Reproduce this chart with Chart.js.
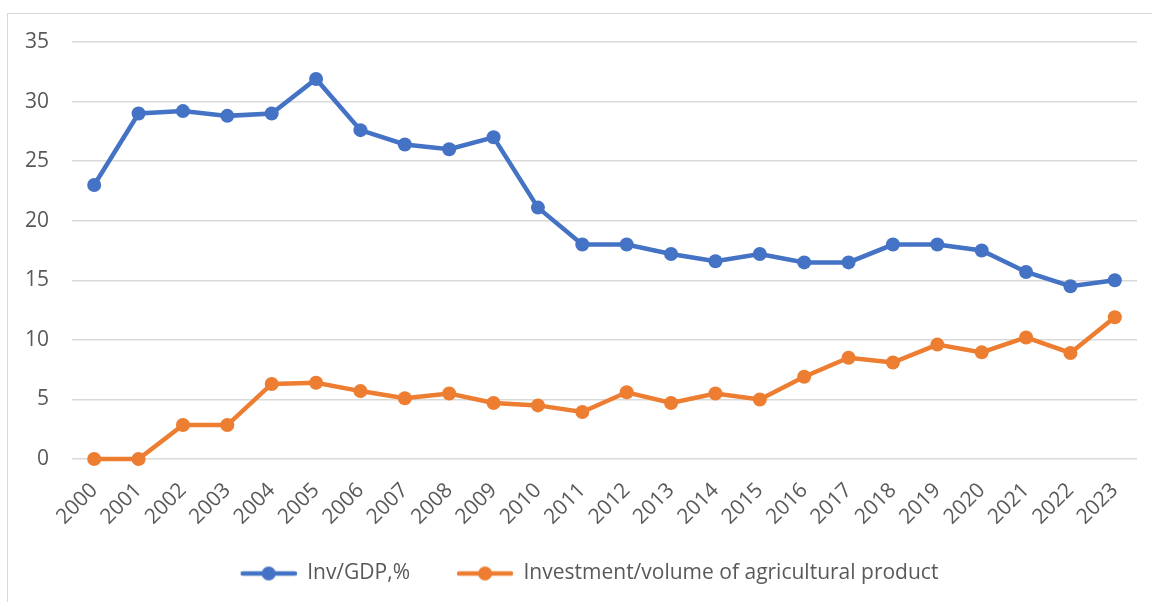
<!DOCTYPE html>
<html>
<head>
<meta charset="utf-8">
<script src="https://cdn.jsdelivr.net/npm/chart.js@4"></script>
<style>
    body { margin: 0; background: #fff; }
    #frame {
        position: absolute; left: 7px; top: 13px;
        width: 1300px; height: 800px;
        border: 1.5px solid #d9d9d9;
    }
    #wrap { position: absolute; left: 0; top: 0; width: 1152px; height: 602px; }
</style>
</head>
<body>
<div id="frame"></div>
<div id="wrap"><canvas id="ResultData" width="1152" height="602"></canvas></div>
<script>
const years = ["2000", "2001", "2002", "2003", "2004", "2005", "2006", "2007", "2008", "2009", "2010", "2011",
    "2012", "2013", "2014", "2015", "2016", "2017", "2018", "2019", "2020", "2021", "2022", "2023"];
const invGdp = [23.0, 29.0, 29.2, 28.8, 29.0, 31.9, 27.6, 26.4, 26.0, 27.0, 21.1, 18.0,
    18.0, 17.2, 16.6, 17.2, 16.5, 16.5, 18.0, 18.0, 17.5, 15.7, 14.5, 15.0];
const invAgro = [0, 0, 2.85, 2.85, 6.3, 6.4, 5.7, 5.1, 5.5, 4.7, 4.5, 3.95,
    5.6, 4.7, 5.5, 5.0, 6.9, 8.5, 8.1, 9.6, 8.95, 10.2, 8.9, 11.9];

const blue = "#4472C4";
const orange = "#ED7D31";
const textColor = "#595959";
const fontFamily = "'Open Sans', sans-serif";
const fontSize = 21;

// legend marker: line with a dot, like Excel (16px empty on the left = gap between items)
function legendMarker(color) {
    const c = document.createElement("canvas");
    c.width = 72;
    c.height = 16;
    const ctx = c.getContext("2d");
    ctx.strokeStyle = color;
    ctx.lineWidth = 4.5;
    ctx.lineCap = "round";
    ctx.beginPath();
    ctx.moveTo(18, 8);
    ctx.lineTo(70, 8);
    ctx.stroke();
    ctx.fillStyle = color;
    ctx.beginPath();
    ctx.arc(44, 8, 7, 0, Math.PI * 2);
    ctx.fill();
    return c;
}

// excel centres the legend a bit to the right of the canvas centre
const legendShift = {
    id: "legendShift",
    afterLayout(chart) {
        chart.legend.left += 13;
        chart.legend.right += 13;
    },
};

const ItemChart = document.getElementById("ResultData");

new Chart(ItemChart, {
    type: "line",
    data: {
        labels: years,
        datasets: [
            {
                label: "Inv/GDP,%",
                data: invGdp,
                borderColor: blue,
                backgroundColor: blue,
                borderWidth: 4.5,
                pointRadius: 7,
                pointBorderWidth: 0,
                tension: 0,
                clip: false,
            },
            {
                label: "Investment/volume of agricultural product",
                data: invAgro,
                borderColor: orange,
                backgroundColor: orange,
                borderWidth: 4.5,
                pointRadius: 7,
                pointBorderWidth: 0,
                tension: 0,
                clip: false,
            },
        ],
    },
    plugins: [legendShift],
    options: {
        responsive: false,
        animation: false,
        layout: {
            padding: { left: 0, right: 15, top: 42, bottom: 8 },
        },
        plugins: {
            tooltip: { enabled: false },
            legend: {
                position: "bottom",
                labels: {
                    usePointStyle: true,
                    pointStyleWidth: 72,
                    padding: 31,
                    color: textColor,
                    font: { family: fontFamily, size: fontSize },
                    generateLabels: (chart) =>
                        chart.data.datasets.map((ds, i) => ({
                            text: ds.label,
                            fontColor: textColor,
                            pointStyle: legendMarker(ds.borderColor),
                            datasetIndex: i,
                            lineWidth: 0,
                            strokeStyle: "transparent",
                            fillStyle: ds.borderColor,
                        })),
                },
            },
        },
        scales: {
            x: {
                offset: true,
                grid: { display: false },
                border: { display: false },
                ticks: {
                    color: textColor,
                    font: { family: fontFamily, size: fontSize },
                    minRotation: 45,
                    maxRotation: 45,
                    padding: 11,
                    autoSkip: false,
                },
                afterFit: (scale) => {
                    scale.height = 73;
                },
            },
            y: {
                min: 0,
                max: 35,
                grid: { color: "#d9d9d9", lineWidth: 1.5, drawTicks: false },
                border: { display: false },
                ticks: {
                    stepSize: 5,
                    color: textColor,
                    font: { family: fontFamily, size: fontSize },
                    padding: 23,
                },
                afterFit: (scale) => {
                    scale.width = 72;
                },
            },
        },
    },
});
</script>
</body>
</html>
